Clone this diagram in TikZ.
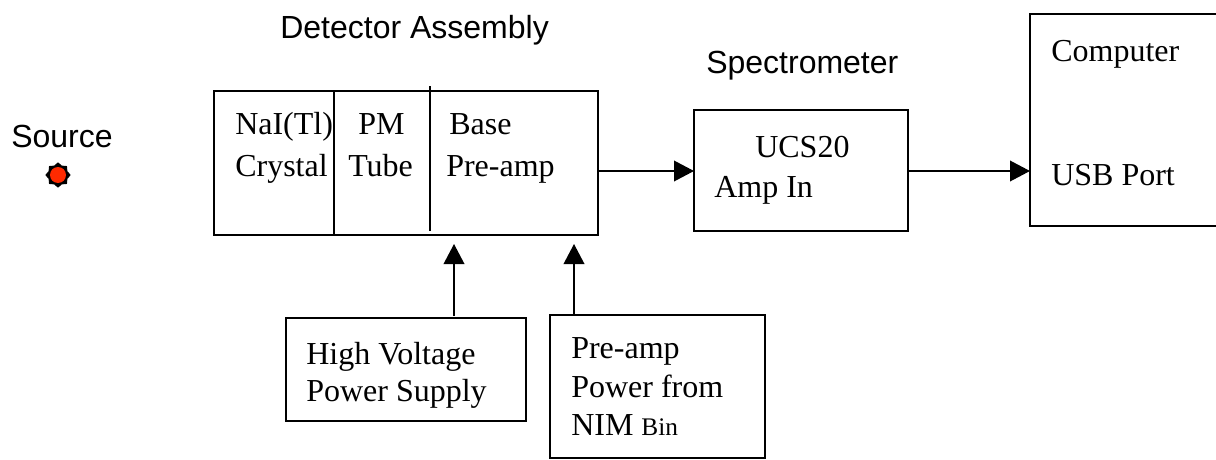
\documentclass[tikz,border=0pt]{standalone}
\usepackage{fontspec}
\setmainfont{Liberation Serif}
\setsansfont{Liberation Sans}
\usetikzlibrary{positioning, shapes.geometric, arrows.meta, calc}
\definecolor{srcred}{HTML}{FF2A00}

\begin{document}
\begin{tikzpicture}[x=0.75pt, y=-0.75pt,
          b/.style={draw, line width=1.1pt, inner sep=0pt, outer sep=0pt},
          t/.style={font=\fontsize{24}{28}\selectfont, align=left, inner sep=0pt, anchor=base west},
          h/.style={font=\sffamily\fontsize{24}{28}\selectfont, inner sep=0pt, anchor=base west},
          a/.style={-{Triangle[length=15pt, width=15.5pt]}, line width=1.1pt}]
        \useasboundingbox (0,0) rectangle (1216,460);
        % boxes
        \node[b, anchor=north west, minimum width=288pt, minimum height=108pt] (det) at (214,91) {};
        \node[b, anchor=north west, minimum width=160.5pt, minimum height=90.75pt] (spec) at (694,110) {};
        \node[b, anchor=north west, minimum width=141pt, minimum height=159pt] (comp) at (1030,14) {};
        \node[b, anchor=north west, minimum width=180pt, minimum height=77.25pt] (hv) at (286,318) {};
        \node[b, anchor=north west, minimum width=161.25pt, minimum height=107.25pt] (pre) at (550,315) {};
        % dividers
        \draw[line width=1.1pt] (334,91) -- (334,235);
        \draw[line width=1.1pt] (430,86) -- (430,231);
        % labels
        \node[h] (dlab) at (280,39) {Detector Assembly};
        \node[h] (slab) at (706,74) {Spectrometer};
        \node[h] (src) at (11,147) {Source};
        \node[t] (nai) at (235,134) {NaI(Tl)};
        \node[t] (cry) at (235,176) {Crystal};
        \node[t] (pm) at (358,134) {PM};
        \node[t] (tube) at (348,176) {Tube};
        \node[t] (base) at (449,134) {Base};
        \node[t] (amp) at (446,176) {Pre-amp};
        \node[t] (ucs) at (755,157) {UCS20};
        \node[t] (ampin) at (714,197) {Amp In};
        \node[t] (cname) at (1051,62) {Computer};
        \node[t] (usb) at (1051,185) {USB Port};
        \node[t] (hv1) at (306,364) {High Voltage};
        \node[t] (hv2) at (306,401) {Power Supply};
        \node[t] (pre1) at (571,358) {Pre-amp};
        \node[t] (pre2) at (571,397) {Power from};
        \node[t] (pre3) at (571,435) {NIM \fontsize{19}{22}\selectfont Bin};
        % source
        \node[star, star points=8, star point ratio=1.25, fill=black, minimum size=19pt, inner sep=0pt] (dot) at (58,175) {};
        \node[circle, fill=srcred, minimum size=12pt, inner sep=0pt] (core) at (dot) {};
        % arrows
        \coordinate (hvtip) at (454,244);
        \coordinate (pretip) at (574,244);
        \draw[a] (det.east |- 0,171) -- (spec.west |- 0,171);
        \draw[a] (spec.east |- 0,171) -- (comp.west |- 0,171);
        \draw[a] (hv.north -| hvtip) ++(0,-2) -- (hvtip);
        \draw[a] (pre.north -| pretip) -- (pretip);
\end{tikzpicture}
\end{document}
